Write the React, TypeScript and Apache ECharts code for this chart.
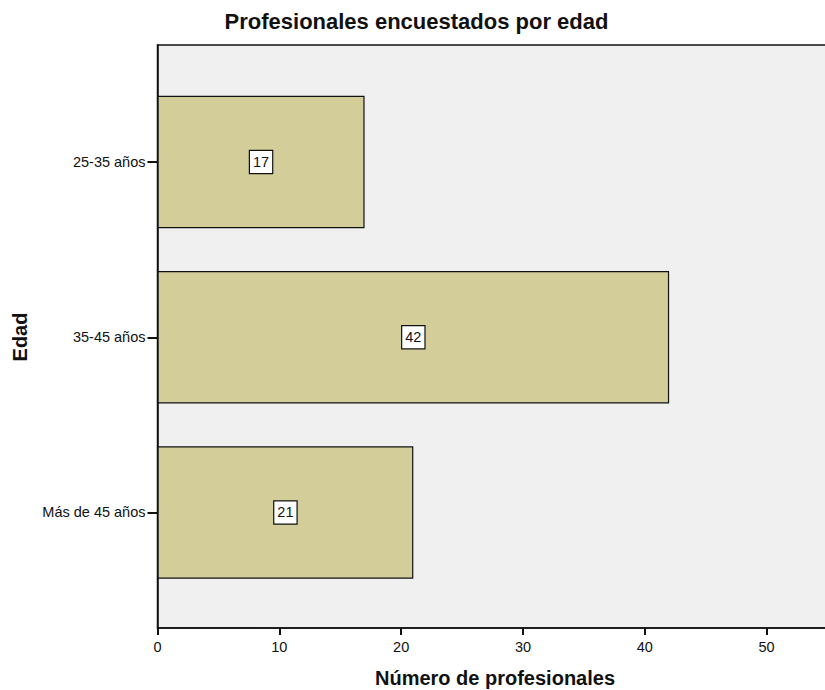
import React, { useEffect, useRef } from "react";
import * as echarts from "echarts";

// Age groups of the surveyed professionals and their counts
const ageGroups = ["25-35 años", "35-45 años", "Más de 45 años"];
const professionalCounts = [17, 42, 21];
const xTicks = [0, 10, 20, 30, 40, 50];

const chartTitle = "Profesionales encuestados por edad";
const xAxisTitle = "Número de profesionales";
const yAxisTitle = "Edad";

const FONT = "'Liberation Sans', Arial, Helvetica, sans-serif";

export default function App() {
  const ref = useRef<HTMLDivElement | null>(null);

  useEffect(() => {
    if (!ref.current) return;
    const chart = echarts.init(ref.current, null, { renderer: "svg" });

    const xMin = xTicks[0];
    const xStep = xTicks[1] - xTicks[0];
    const xMax = 55;

    const option: any = {
      animation: false,
      backgroundColor: "#ffffff",
      textStyle: { fontFamily: FONT },
      grid: [
        // frame: grey plot background and the axes (runs past the right edge)
        {
          left: 157.5,
          top: 45,
          width: 670,
          height: 583,
          outerBoundsMode: "none",
          show: true,
          backgroundColor: "#f0f0f0",
          borderColor: "#111",
          borderWidth: 1.5,
        },
        // inner band area that holds the bars
        {
          left: 157.5,
          top: 74.4,
          width: 670,
          height: 525.7,
          outerBoundsMode: "none",
        },
      ],
      xAxis: [
        {
          type: "value",
          gridIndex: 0,
          min: xMin,
          max: xMax,
          interval: xStep,
          axisLine: { show: true, lineStyle: { color: "#111", width: 1.5 } },
          axisTick: { show: true, length: 7, lineStyle: { color: "#111", width: 2 } },
          axisLabel: {
            margin: 11,
            fontSize: 14.5,
            color: "#111",
            fontFamily: FONT,
            showMaxLabel: false,
          },
          splitLine: { show: false },
        },
        {
          type: "value",
          gridIndex: 1,
          min: xMin,
          max: xMax,
          show: false,
        },
      ],
      yAxis: [
        {
          type: "value",
          gridIndex: 0,
          min: 0,
          max: 1,
          axisLine: { show: true, lineStyle: { color: "#111", width: 1.5 } },
          axisTick: { show: false },
          axisLabel: { show: false },
          splitLine: { show: false },
        },
        {
          type: "category",
          gridIndex: 1,
          inverse: true,
          data: ageGroups,
          axisLine: { show: false },
          axisTick: {
            show: true,
            alignWithLabel: true,
            length: 10,
            lineStyle: { color: "#111", width: 2 },
          },
          axisLabel: {
            margin: 12,
            fontSize: 14.5,
            color: "#111",
            fontFamily: FONT,
          },
          splitLine: { show: false },
        },
      ],
      series: [
        {
          type: "bar",
          xAxisIndex: 1,
          yAxisIndex: 1,
          data: professionalCounts,
          barWidth: "75.5%",
          itemStyle: {
            color: "#d3ce99",
            borderColor: "#111",
            borderWidth: 1.2,
          },
          label: {
            show: true,
            position: "inside",
            color: "#111",
            fontSize: 14.5,
            lineHeight: 14,
            fontFamily: FONT,
            backgroundColor: "#ffffff",
            borderColor: "#111",
            borderWidth: 1.2,
            padding: [4, 3, 4, 3],
          },
        },
      ],
      graphic: [
        {
          type: "text",
          x: 416.5,
          y: 21.5,
          style: {
            text: chartTitle,
            font: `bold 22px ${FONT}`,
            fill: "#111",
            textAlign: "center",
            textVerticalAlign: "middle",
          },
        },
        {
          type: "text",
          x: 495,
          y: 678,
          style: {
            text: xAxisTitle,
            font: `bold 20px ${FONT}`,
            fill: "#111",
            textAlign: "center",
            textVerticalAlign: "middle",
          },
        },
        {
          type: "text",
          x: 19.5,
          y: 337,
          rotation: Math.PI / 2,
          style: {
            text: yAxisTitle,
            font: `bold 20px ${FONT}`,
            fill: "#111",
            textAlign: "center",
            textVerticalAlign: "middle",
          },
        },
      ],
    };

    chart.setOption(option);
    return () => chart.dispose();
  }, []);

  return (
    <div
      ref={ref}
      style={{ position: "fixed", left: 0, top: 0, width: 825, height: 690 }}
    />
  );
}
